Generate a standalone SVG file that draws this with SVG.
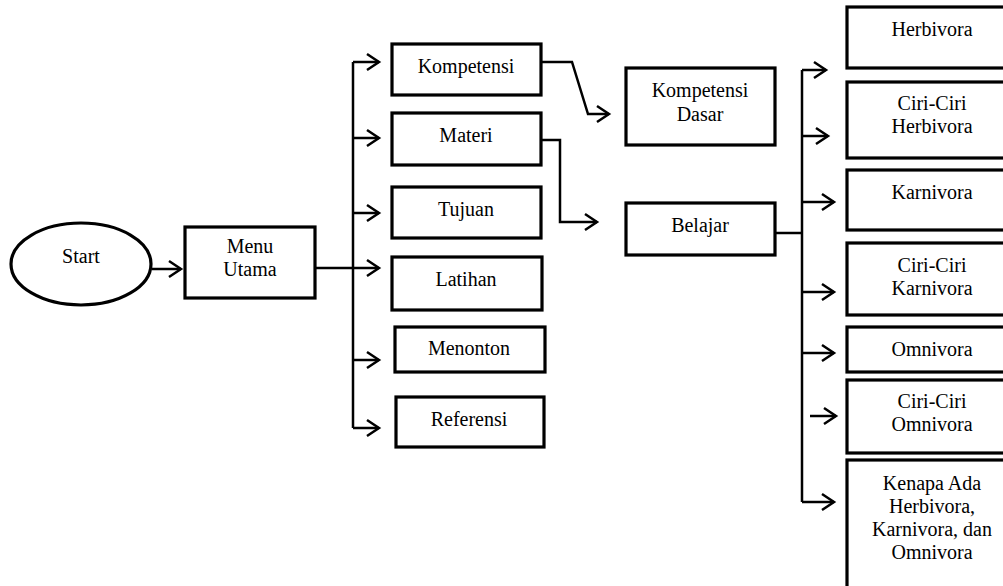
<svg xmlns="http://www.w3.org/2000/svg" width="1003" height="586" viewBox="0 0 1003 586">
<defs>
<marker id="ah" markerUnits="userSpaceOnUse" orient="auto" overflow="visible" markerWidth="1" markerHeight="1" refX="0" refY="0"><path d="M-12,-8 L0,0 L-12,8" fill="none" stroke="#000" stroke-width="2.5"/></marker>
<style>
.box{fill:#fff;stroke:#000;stroke-width:3.2}
.t{font-family:'Liberation Serif','Times New Roman','DejaVu Serif',serif;font-size:20px;fill:#000;text-anchor:middle}
.c{fill:none;stroke:#000;stroke-width:2.5}
.a{fill:none;stroke:#000;stroke-width:2.5;marker-end:url(#ah)}
</style>
</defs>
<rect width="1003" height="586" fill="#fff"/>
<g id="connectors">
<path class="a" d="M152,269 H181"/>
<path class="c" d="M315,268 H353"/>
<path class="c" d="M353,62 V428"/>
<path class="a" d="M353,62 H379"/>
<path class="a" d="M353,138 H379"/>
<path class="a" d="M353,213 H379"/>
<path class="a" d="M353,268 H379"/>
<path class="a" d="M353,360 H379"/>
<path class="a" d="M353,428 H379"/>
<path class="a" d="M541,62 H572 L588,114 H609"/>
<path class="a" d="M541,140 H560 V222 H597"/>
<path class="c" d="M775,233 H802"/>
<path class="c" d="M802,70 V502"/>
<path class="a" d="M802,70 H826"/>
<path class="a" d="M802,136 H828"/>
<path class="a" d="M802,202 H834"/>
<path class="a" d="M802,292 H834"/>
<path class="a" d="M802,353 H834"/>
<path class="a" d="M810,416 H836"/>
<path class="a" d="M802,502 H834"/>
</g>
<g id="start"><ellipse cx="81" cy="264" rx="70" ry="41" fill="#fff" stroke="#000" stroke-width="3.2"/><text class="t" x="81" y="263">Start</text></g>
<g id="menu-utama"><rect class="box" x="185" y="227" width="130" height="71"/><text class="t" x="250" y="253">Menu</text><text class="t" x="250" y="276">Utama</text></g>
<g id="kompetensi"><rect class="box" x="392" y="44" width="149" height="51"/><text class="t" x="466" y="73">Kompetensi</text></g>
<g id="materi"><rect class="box" x="392" y="113" width="149" height="52"/><text class="t" x="466" y="142">Materi</text></g>
<g id="tujuan"><rect class="box" x="392" y="187" width="149" height="51"/><text class="t" x="466" y="216">Tujuan</text></g>
<g id="latihan"><rect class="box" x="392" y="257" width="150" height="53"/><text class="t" x="466" y="286">Latihan</text></g>
<g id="menonton"><rect class="box" x="395" y="327" width="150" height="45"/><text class="t" x="469" y="355">Menonton</text></g>
<g id="referensi"><rect class="box" x="396" y="397" width="148" height="50"/><text class="t" x="469" y="426">Referensi</text></g>
<g id="kompetensi-dasar"><rect class="box" x="626" y="68" width="149" height="77"/><text class="t" x="700" y="97">Kompetensi</text><text class="t" x="700" y="121">Dasar</text></g>
<g id="belajar"><rect class="box" x="626" y="203" width="149" height="52"/><text class="t" x="700" y="232">Belajar</text></g>
<g id="herbivora"><rect class="box" x="847" y="7" width="175" height="61"/><text class="t" x="932" y="36">Herbivora</text></g>
<g id="ciri-herbivora"><rect class="box" x="847" y="82" width="175" height="76"/><text class="t" x="932" y="110">Ciri-Ciri</text><text class="t" x="932" y="133">Herbivora</text></g>
<g id="karnivora"><rect class="box" x="847" y="170" width="175" height="60"/><text class="t" x="932" y="199">Karnivora</text></g>
<g id="ciri-karnivora"><rect class="box" x="847" y="243" width="175" height="72"/><text class="t" x="932" y="272">Ciri-Ciri</text><text class="t" x="932" y="295">Karnivora</text></g>
<g id="omnivora"><rect class="box" x="847" y="327" width="175" height="45"/><text class="t" x="932" y="356">Omnivora</text></g>
<g id="ciri-omnivora"><rect class="box" x="847" y="380" width="175" height="73"/><text class="t" x="932" y="408">Ciri-Ciri</text><text class="t" x="932" y="431">Omnivora</text></g>
<g id="kenapa"><rect class="box" x="847" y="460" width="175" height="140"/><text class="t" x="932" y="490">Kenapa Ada</text><text class="t" x="932" y="513">Herbivora,</text><text class="t" x="932" y="536">Karnivora, dan</text><text class="t" x="932" y="559">Omnivora</text></g>
</svg>
